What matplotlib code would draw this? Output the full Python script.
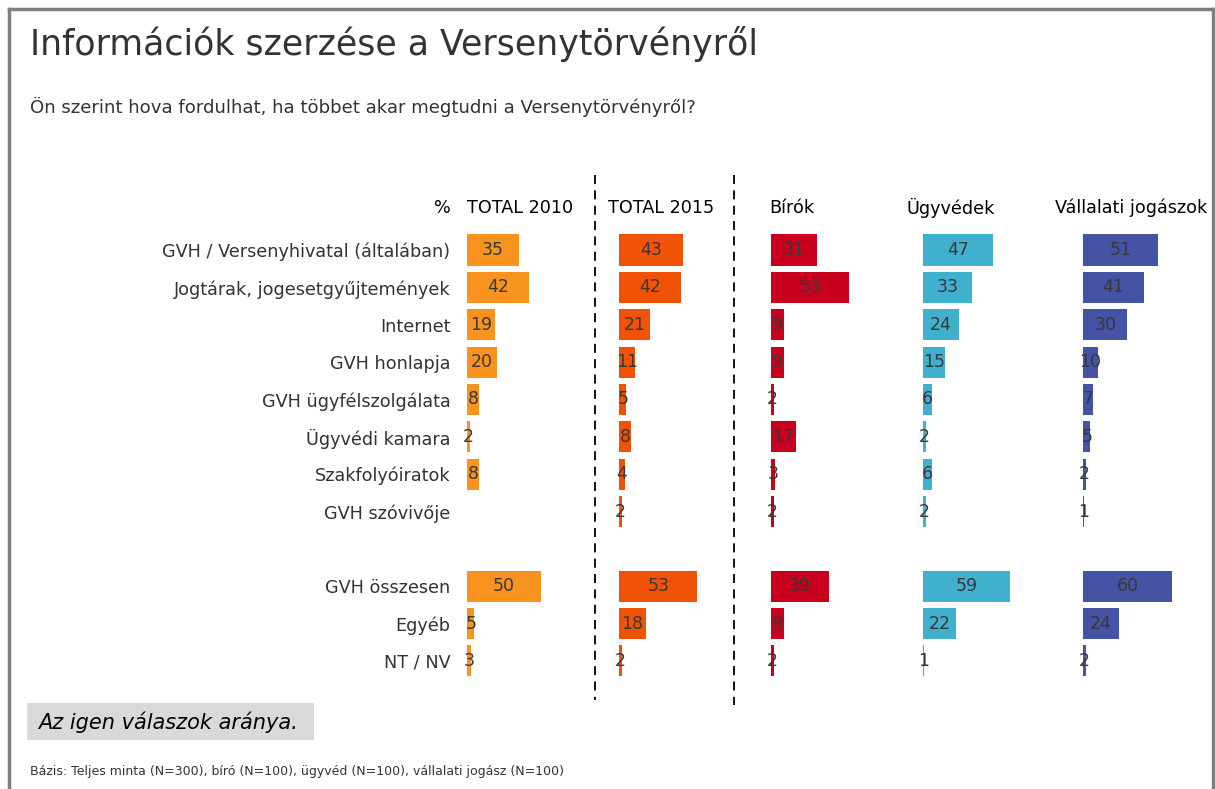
import numpy as np
import matplotlib
matplotlib.use("Agg")
import matplotlib.pyplot as plt
from matplotlib.lines import Line2D
from matplotlib.patches import Rectangle

TITLE = "Információk szerzése a Versenytörvényről"
SUBTITLE = "Ön szerint hova fordulhat, ha többet akar megtudni a Versenytörvényről?"
NOTE = "Az igen válaszok aránya."
FOOTER = "Bázis: Teljes minta (N=300), bíró (N=100), ügyvéd (N=100), vállalati jogász (N=100)"

CATEGORIES = [
    "GVH / Versenyhivatal (általában)",
    "Jogtárak, jogesetgyűjtemények",
    "Internet",
    "GVH honlapja",
    "GVH ügyfélszolgálata",
    "Ügyvédi kamara",
    "Szakfolyóiratok",
    "GVH szóvivője",
    "GVH összesen",
    "Egyéb",
    "NT / NV",
]
GROUPS = ["TOTAL 2010", "TOTAL 2015", "Bírók", "Ügyvédek", "Vállalati jogászok"]

TOTAL_2010 = [35, 42, 19, 20, 8, 2, 8, None, 50, 5, 3]
TOTAL_2015 = [43, 42, 21, 11, 5, 8, 4, 2, 53, 18, 2]
BIROK = [31, 53, 9, 9, 2, 17, 3, 2, 39, 9, 2]
UGYVEDEK = [47, 33, 24, 15, 6, 2, 6, 2, 59, 22, 1]
VALLALATI = [51, 41, 30, 10, 7, 5, 2, 1, 60, 24, 2]

SERIES = [TOTAL_2010, TOTAL_2015, BIROK, UGYVEDEK, VALLALATI]
COLORS = ["#F7931E", "#F05306", "#C8001E", "#3FB1CE", "#4453A3"]

# layout in pixels
W, H = 1215, 789
COL_LEFT = [467, 619, 771, 923, 1083]
HEADER_X = [467, 608, 769, 906, 1055]
PX_PER_UNIT = 1.48
AX_TOP, AX_BOTTOM = 175, 705
ROW_PITCH = 37.36
FIRST_ROW = 250
TEXT = "#333333"

fig = plt.figure(figsize=(W / 100, H / 100), dpi=100)


def px_axes(left, top, width, height):
    return fig.add_axes([left / W, 1 - (top + height) / H, width / W, height / H])


# empty row between the detailed items and the summary rows
ypos = np.array([i + (1 if i >= 8 else 0) for i in range(len(CATEGORIES))], dtype=float)
ylim_top = -(FIRST_ROW - AX_TOP) / ROW_PITCH
ylim_bot = (AX_BOTTOM - FIRST_ROW) / ROW_PITCH
ax_w = 140

for k, (name, vals, col) in enumerate(zip(GROUPS, SERIES, COLORS)):
    ax = px_axes(COL_LEFT[k], AX_TOP, ax_w, AX_BOTTOM - AX_TOP)
    ax.set_xlim(0, ax_w / PX_PER_UNIT)
    ax.set_ylim(ylim_bot, ylim_top)
    v = np.array([np.nan if x is None else x for x in vals], dtype=float)
    ax.barh(ypos, np.nan_to_num(v), height=0.83, color=col, edgecolor="none")
    for y, x in zip(ypos, v):
        if np.isnan(x):
            continue
        ax.text(x / 2, y, f"{int(x)}", ha="center", va="center",
                fontsize=12.5, color="#383838")
    ax.text((HEADER_X[k] - COL_LEFT[k]) / PX_PER_UNIT, ylim_top + (208 - AX_TOP) / ROW_PITCH,
            name, ha="left", va="center", fontsize=12.7, color="black")
    ax.set_xticks([])
    if k == 0:
        ax.set_yticks(ypos, CATEGORIES, fontsize=12.7, color=TEXT)
        ax.tick_params(axis="y", length=0, pad=12)
    else:
        ax.set_yticks([])
    for s in ax.spines.values():
        s.set_visible(False)
    ax.patch.set_visible(False)

fig.text(451 / W, 1 - 208 / H, "%", ha="right", va="center", fontsize=12.7, color="black")

# dashed separators
for x, y1 in [(595, 700), (734, 705)]:
    fig.add_artist(Line2D([x / W, x / W], [1 - 175 / H, 1 - y1 / H], color="black",
                          lw=1.3, linestyle=(0, (5, 3.5))))

fig.text(30 / W, 1 - 44 / H, TITLE, ha="left", va="center", fontsize=25, color=TEXT)
fig.text(30 / W, 1 - 107 / H, SUBTITLE, ha="left", va="center", fontsize=13.1, color=TEXT)

fig.add_artist(Rectangle((27 / W, 1 - 740 / H), 287 / W, 37 / H, color="#D9D9D9", lw=0))
fig.text(38 / W, 1 - 722 / H, NOTE, ha="left", va="center", fontsize=15,
         style="italic", color="black")
fig.text(30 / W, 1 - 772 / H, FOOTER, ha="left", va="center", fontsize=9, color=TEXT)

# outer frame (bottom edge is cropped in the original)
fc = "#7F7F7F"
fig.add_artist(Line2D([9 / W, 1213 / W], [1 - 9 / H, 1 - 9 / H], color=fc, lw=2.5))
fig.add_artist(Line2D([9 / W, 9 / W], [1 - 9 / H, 0], color=fc, lw=2.5))
fig.add_artist(Line2D([1213 / W, 1213 / W], [1 - 9 / H, 0], color=fc, lw=2.5))

fig.savefig("out.png", dpi=100)
